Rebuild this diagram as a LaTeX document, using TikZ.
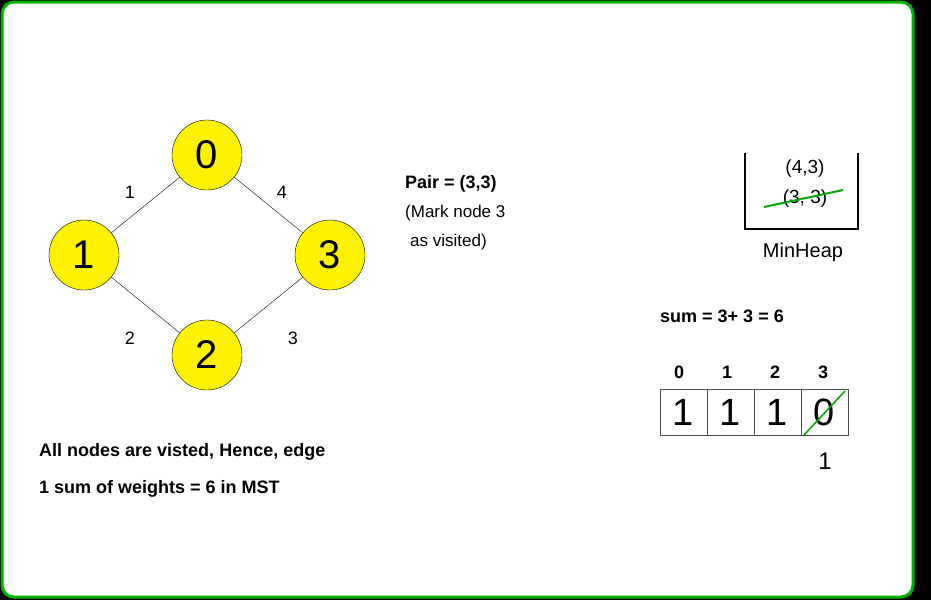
\documentclass[tikz,border=0pt]{standalone}
\usepackage{fontspec}
\setmainfont{Liberation Sans}
\begin{document}
\begin{tikzpicture}[x=1pt,y=-1pt,
  vert/.style={circle,draw=black,fill=yellow,minimum size=70pt,inner sep=0pt,font=\fontsize{40}{40}\selectfont},
  elab/.style={font=\fontsize{18}{18}\selectfont},
  txt/.style={font=\fontsize{18}{18}\selectfont\bfseries,anchor=west,inner sep=0pt},
  ntxt/.style={font=\fontsize{17}{17}\selectfont,anchor=west,inner sep=0pt},
  cell/.style={draw=black!70,minimum width=47pt,minimum height=46pt,inner sep=0pt,font=\fontsize{38}{38}\selectfont},
  strike/.style={draw=green!65!black,line width=2pt}]
\fill[black] (0,0) rectangle (931,600);
\draw[fill=white,draw=green!70!black,line width=3pt,rounded corners=12pt] (2,2) rectangle (913,597);
\useasboundingbox (0,0) rectangle (931,600);
\node[vert] (n0) at (207,155) {0};
\node[vert] (n1) at (84,255) {1};
\node[vert] (n3) at (330,255) {3};
\node[vert] (n2) at (207,355) {2};
\draw (n0) -- (n1); \draw (n0) -- (n3); \draw (n1) -- (n2); \draw (n3) -- (n2);
\node[elab] (l1) at (130,192) {1};
\node[elab] (l4) at (282,192) {4};
\node[elab] (l2) at (130,338) {2};
\node[elab] (l3) at (293,338) {3};
\node[txt] (p1) at (405,184) {Pair = (3,3)};
\node[ntxt] (p2) at (405,213) {(Mark node 3};
\node[ntxt] (p3) at (410,242) {as visited)};
\draw[line width=1.5pt] (745,153) -- (745,229) -- (858,229) -- (858,153);
\node[font=\fontsize{19}{19}\selectfont] (h1) at (805,169) {(4,3)};
\node[font=\fontsize{19}{19}\selectfont] (h2) at (805,199) {(3, 3)};
\draw[strike] (764,207) -- (843,190);
\node[font=\fontsize{20}{20}\selectfont] (mh) at (803,252) {MinHeap};
\node[txt] (sum) at (660,316) {sum = 3+ 3 = 6};
\foreach \i/\v in {0/1,1/1,2/1,3/0}{
  \node[cell] (c\i) at (683.5+47*\i,412) {\v};
  \node[font=\fontsize{18}{18}\selectfont\bfseries] (i\i) at (679+48*\i,372) {\i};
}
\draw[strike,line width=1.5pt] (804,435) -- (845,391);
\node[font=\fontsize{24}{24}\selectfont] (one) at (825,461) {1};
\node[txt] (b1) at (39,452) {All nodes are visted, Hence, edge};
\node[txt] (b2) at (39,489) {1 sum of weights = 6 in MST};
\end{tikzpicture}
\end{document}
